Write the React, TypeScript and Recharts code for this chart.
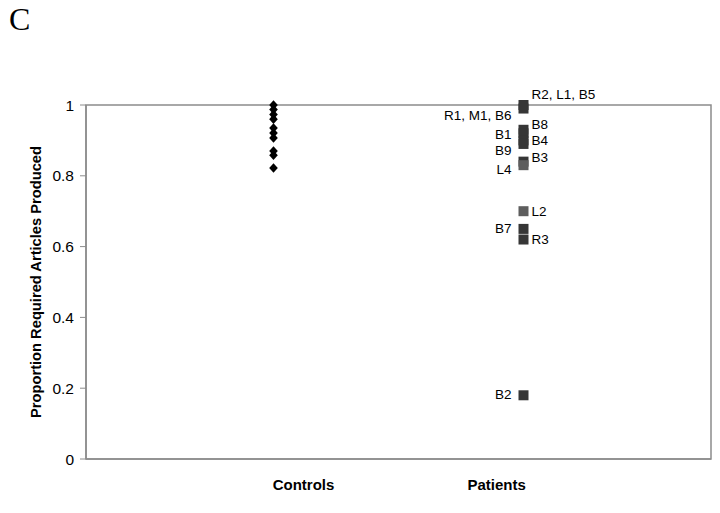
import React from "react";
import {
  ScatterChart,
  Scatter,
  XAxis,
  YAxis,
  ReferenceArea,
  LabelList,
} from "recharts";

// group positions on the x scale (0..1)
const controlX = 0.3;
const patientX = 0.7;

// proportions
const controlValues = [1.0, 0.987, 0.973, 0.96, 0.935, 0.921, 0.907, 0.87, 0.858, 0.822];

const patientIds = [
  "R2, L1, B5",
  "R1, M1, B6",
  "B8",
  "B1",
  "B4",
  "B9",
  "B3",
  "L4",
  "L2",
  "B7",
  "R3",
  "B2",
];
const patientValues = [1.0, 0.99, 0.93, 0.92, 0.9, 0.89, 0.84, 0.83, 0.7, 0.65, 0.62, 0.18];

// which side of the marker the label sits on, and a small vertical nudge (px)
const labelSide = ["right", "left", "right", "left", "right", "left", "right", "left", "right", "left", "right", "left"];
const labelNudge = [-11, 7, -6, 1, 0, 6, -4, 4, 0, -1, 0, -1];

const yTicks = [0, 0.2, 0.4, 0.6, 0.8, 1];
const xTickPos = [0.348, 0.657];
const xTickNames = ["Controls", "Patients"];

const axisGray = "#8c8c8c";
const font = "'Liberation Sans', Arial, sans-serif";

const controls = controlValues.map((v) => ({ x: controlX, y: v }));
const patients = patientValues.map((v, i) => ({
  x: patientX,
  y: v,
  id: patientIds[i],
  side: labelSide[i],
  nudge: labelNudge[i],
}));

const Diamond = (props: any) => {
  const { cx, cy } = props;
  return (
    <polygon
      points={`${cx},${cy - 4.8} ${cx + 4.3},${cy} ${cx},${cy + 4.8} ${cx - 4.3},${cy}`}
      fill="#000"
    />
  );
};

const Square = (props: any) => {
  const { cx, cy, payload } = props;
  const light = payload.id.startsWith("L");
  return (
    <rect
      x={cx - 5}
      y={cy - 5}
      width={10}
      height={10}
      fill={light ? "#5e5e5e" : "#363636"}
    />
  );
};

const PatientLabel = (props: any) => {
  const { x, y, width, height, index } = props;
  const p = patients[index];
  const cx = x + width / 2;
  const cy = y + height / 2 + p.nudge;
  const right = p.side === "right";
  return (
    <text
      x={right ? cx + 8 : cx - 12}
      y={cy}
      dy="0.35em"
      textAnchor={right ? "start" : "end"}
      fontSize={13.5}
      fontFamily={font}
      fill="#000"
    >
      {p.id}
    </text>
  );
};

export default function App() {
  return (
    <div style={{ position: "absolute", left: 0, top: 0, width: 720, height: 513, background: "#fff" }}>
      <div
        style={{
          position: "absolute",
          left: 9,
          top: 1,
          fontFamily: "'Liberation Serif', 'Times New Roman', serif",
          fontSize: 32,
          color: "#000",
        }}
      >
        C
      </div>
      <ScatterChart
        width={720}
        height={513}
        margin={{ top: 105, right: 9, bottom: 0, left: 0 }}
      >
        <ReferenceArea
          x1={0}
          x2={1}
          y1={0}
          y2={1}
          fill="none"
          stroke={axisGray}
          strokeWidth={1.5}
          ifOverflow="extendDomain"
        />
        <XAxis
          type="number"
          dataKey="x"
          domain={[0, 1]}
          ticks={xTickPos}
          tickFormatter={(v: number) => xTickNames[xTickPos.indexOf(v)] ?? ""}
          height={54}
          axisLine={{ stroke: axisGray, strokeWidth: 1.5 }}
          tickLine={false}
          tick={{ fontSize: 15, fontWeight: "bold", fill: "#000", fontFamily: font }}
          tickMargin={14}
        />
        <YAxis
          type="number"
          dataKey="y"
          domain={[0, 1]}
          ticks={yTicks}
          width={86}
          axisLine={{ stroke: axisGray, strokeWidth: 1.5 }}
          tickLine={{ stroke: axisGray }}
          tickSize={6}
          tickMargin={6}
          tick={{ fontSize: 15.5, fill: "#000", fontFamily: font }}
          label={{
            value: "Proportion Required Articles Produced",
            angle: -90,
            position: "insideLeft",
            dx: 31,
            dy: 0,
            style: {
              fontSize: 14.7,
              fontWeight: "bold",
              fill: "#000",
              fontFamily: font,
              textAnchor: "middle",
            },
          }}
        />
        <Scatter
          data={controls}
          shape={<Diamond />}
          isAnimationActive={false}
        />
        <Scatter
          data={patients}
          shape={<Square />}
          isAnimationActive={false}
        >
          <LabelList dataKey="id" content={<PatientLabel />} />
        </Scatter>
      </ScatterChart>
    </div>
  );
}
